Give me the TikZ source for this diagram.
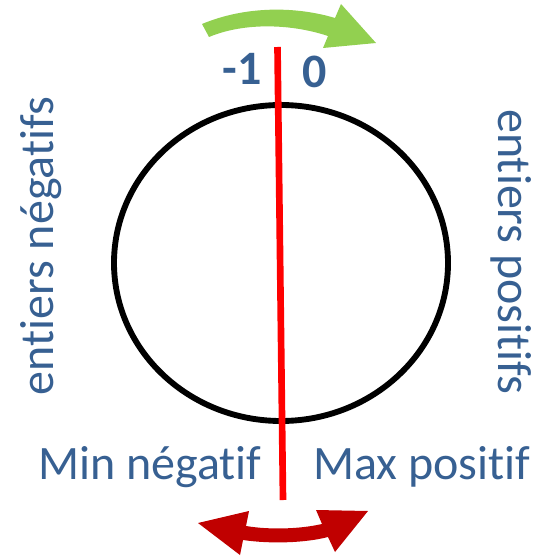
\documentclass[tikz,border=0pt]{standalone}
\usepackage{fontspec}
\setmainfont{Carlito}[Ligatures={NoCommon,NoRare,NoContextual}]
\usepackage{xcolor}
\usetikzlibrary{calc, shapes.geometric}
\definecolor{wrapBlue}{RGB}{55,96,146}
\definecolor{wrapGreen}{RGB}{146,208,80}
\definecolor{wrapDarkRed}{RGB}{192,0,0}
\definecolor{wrapRed}{RGB}{255,0,0}
\tikzset{
    rangelabel/.style={
        inner sep=0pt,
        text=wrapBlue,
        font=\fontsize{36}{43}\selectfont
    },
    valuelabel/.style={
        inner sep=0pt,
        text=wrapBlue,
        font=\fontsize{36}{43}\selectfont\bfseries
    },
    ringline/.style={draw=black, line width=4.4pt},
    wrapline/.style={draw=wrapRed, line width=5pt},
    turnarrow/.style={fill=wrapGreen, draw=none},
    swingarrow/.style={fill=wrapDarkRed, draw=none}
}

\begin{document}
\begin{tikzpicture}[x=0.75pt,y=-0.75pt]
        \useasboundingbox (0,0) rectangle (538,556);

        \node[ringline, ellipse, inner sep=0pt, minimum width=250.5pt, minimum height=237pt] (ring) at (281,263) {};
        \coordinate (wrapTop) at (277.5,47);
        \coordinate (wrapBottom) at (283,500);
        \draw[wrapline] (wrapTop) -- (wrapBottom);

        \node[valuelabel, anchor=base east] (minusone) at (262,85) {-1};
        \node[valuelabel, anchor=base west] (zero) at (302,88) {0};

        \node[rangelabel, rotate=90, anchor=base] (negside) at (53,246) {entiers négatifs};
        \node[rangelabel, rotate=-90, anchor=base] (posside) at (498,252) {entiers positifs};
        \node[rangelabel, anchor=base west] (minneg) at (38,479) {Min négatif};
        \node[rangelabel, anchor=base west] (maxpos) at (313,479) {Max positif};

        % green arrow over the top
        \fill[turnarrow] (202,24) .. controls (245,6) and (295,6) .. (335,18) -- (341,4) -- (376,43)
            -- (323,48) -- (328,36) .. controls (292,24) and (245,22) .. (209,37) -- cycle;
        % red double arrow under the bottom
        \fill[swingarrow] (198,523) -- (249,511) -- (246,526) .. controls (270,530) and (300,529) .. (322,524)
            -- (316,510) -- (368,511) -- (335,552) -- (328,537) .. controls (305,543) and (270,544) .. (243,540)
            -- (240,555) -- cycle;
    \end{tikzpicture}
\end{document}
